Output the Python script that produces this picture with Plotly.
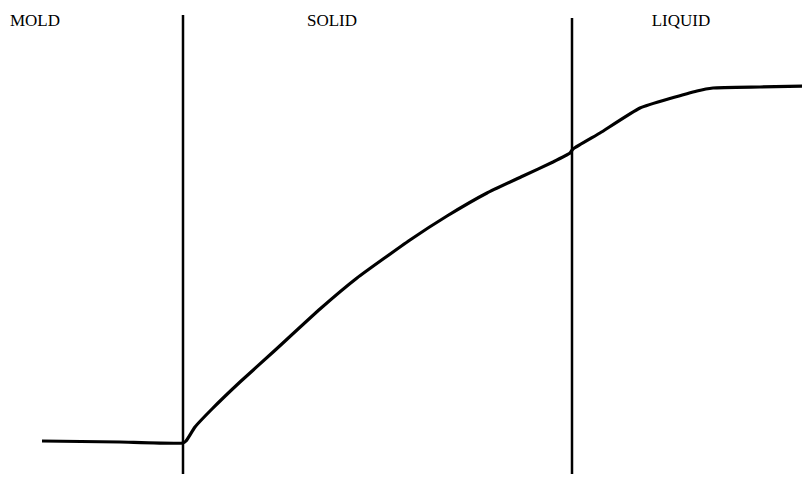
import plotly.graph_objects as go

# Curve (position along casting, temperature-like height in picture units)
curve_x = [42, 120, 183, 186, 195, 212, 240, 272, 320, 357, 410, 447, 487, 523, 553, 570, 573, 600, 640, 697, 713, 760, 808]
curve_y = [441, 442, 443, 441, 427, 409, 382, 353, 309, 278, 240, 216, 193, 176, 162, 153, 149, 133, 108, 91, 88, 87, 86]

# Interface lines (mold/solid, solid/liquid)
iface_x = [183, 572]
iface_top = [15, 18]
iface_bottom = [474, 474]

# Region labels
label_text = ["MOLD", "SOLID", "LIQUID"]
label_x = [35, 332, 681]
label_y = [22, 22, 22]

fig = go.Figure()

for xv, t, b in zip(iface_x, iface_top, iface_bottom):
    fig.add_trace(go.Scatter(x=[xv, xv], y=[t, b], mode="lines",
                             line=dict(color="black", width=2.5),
                             hoverinfo="skip", showlegend=False))

fig.add_trace(go.Scatter(x=curve_x, y=curve_y, mode="lines",
                         line=dict(color="black", width=3.2, shape="spline", smoothing=0.4),
                         showlegend=False))

fig.add_trace(go.Scatter(x=label_x, y=label_y, mode="text", text=label_text,
                         textfont=dict(family="Liberation Serif, DejaVu Serif, serif",
                                       size=17, color="black"),
                         showlegend=False, hoverinfo="skip"))

# page body has an 8px margin: size the figure to fit and offset ranges
fig.update_layout(
    width=802, height=473,
    margin=dict(l=0, r=0, t=0, b=0),
    paper_bgcolor="white", plot_bgcolor="white",
    xaxis=dict(range=[8, 810], visible=False, fixedrange=True),
    yaxis=dict(range=[481, 8], visible=False, fixedrange=True),
)

fig.write_html("out.html")
